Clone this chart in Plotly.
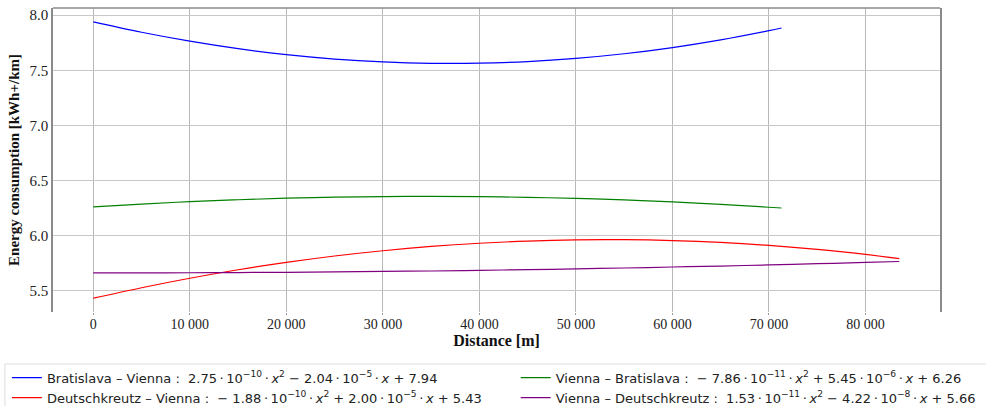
import plotly.graph_objects as go

dist_bv = [0, 5000, 10000, 15000, 20000, 25000, 30000, 35000, 40000, 45000,
           50000, 55000, 60000, 65000, 70000, 71300]
dist_dv = [0, 5000, 10000, 15000, 20000, 25000, 30000, 35000, 40000, 45000,
           50000, 55000, 60000, 65000, 70000, 75000, 80000, 83500]

# Energy consumption [kWh+/km]
bratislava_vienna = [7.94, 7.845, 7.764, 7.696, 7.642, 7.602, 7.576, 7.563, 7.564,
                     7.579, 7.608, 7.650, 7.706, 7.776, 7.860, 7.884]
vienna_bratislava = [6.26, 6.285, 6.307, 6.324, 6.338, 6.347, 6.353, 6.355, 6.352,
                     6.346, 6.336, 6.322, 6.304, 6.282, 6.256, 6.249]
deutschkreutz_vienna = [5.43, 5.525, 5.611, 5.688, 5.755, 5.813, 5.861, 5.900, 5.929,
                        5.949, 5.960, 5.961, 5.953, 5.936, 5.909, 5.873, 5.827, 5.789]
vienna_deutschkreutz = [5.660, 5.660, 5.661, 5.663, 5.665, 5.669, 5.673, 5.677, 5.683,
                        5.689, 5.696, 5.704, 5.713, 5.722, 5.732, 5.743, 5.755, 5.763]

D = "\u2009·\u2009"
legend_names = [
    f"Bratislava – Vienna :  2.75{D}10<sup>−10</sup>{D}<i>x</i><sup>2</sup> − 2.04{D}10<sup>−5</sup>{D}<i>x</i> + 7.94",
    f"Vienna – Bratislava :  − 7.86{D}10<sup>−11</sup>{D}<i>x</i><sup>2</sup> + 5.45{D}10<sup>−6</sup>{D}<i>x</i> + 6.26",
    f"Deutschkreutz – Vienna :  − 1.88{D}10<sup>−10</sup>{D}<i>x</i><sup>2</sup> + 2.00{D}10<sup>−5</sup>{D}<i>x</i> + 5.43",
    f"Vienna – Deutschkreutz :  1.53{D}10<sup>−11</sup>{D}<i>x</i><sup>2</sup> − 4.22{D}10<sup>−8</sup>{D}<i>x</i> + 5.66",
]
colors = ["#0000ff", "#008000", "#ff0000", "#800080"]
legend_ids = ["legend", "legend2", "legend", "legend2"]

x_tickvals = [0, 10000, 20000, 30000, 40000, 50000, 60000, 70000, 80000]
x_ticktext = ["0", "10 000", "20 000", "30 000", "40 000", "50 000", "60 000", "70 000", "80 000"]
y_tickvals = [5.5, 6.0, 6.5, 7.0, 7.5, 8.0]
y_ticktext = ["5.5", "6.0", "6.5", "7.0", "7.5", "8.0"]

series = [
    (dist_bv, bratislava_vienna),
    (dist_bv, vienna_bratislava),
    (dist_dv, deutschkreutz_vienna),
    (dist_dv, vienna_deutschkreutz),
]

fig = go.Figure()
for (xs, ys), name, c, lg in zip(series, legend_names, colors, legend_ids):
    fig.add_trace(go.Scatter(x=xs, y=ys, mode="lines", name=name, legend=lg,
                             line=dict(color=c, width=1.2, shape="spline")))

serif = "Liberation Serif, Times New Roman, serif"
legend_common = dict(
    orientation="v", yanchor="top", xanchor="left",
    font=dict(family="DejaVu Sans", size=13, color="#222"),
    bgcolor="rgba(0,0,0,0)", borderwidth=0, tracegroupgap=0, itemwidth=30,
)
fig.update_layout(
    width=986, height=406,
    margin=dict(l=53, r=46, t=8, b=94, autoexpand=False),
    paper_bgcolor="white", plot_bgcolor="white",
    showlegend=True,
    legend=dict(x=-0.052, y=-0.167, **legend_common),
    legend2=dict(x=0.5216, y=-0.167, **legend_common),
    xaxis=dict(
        range=[-4177, 87717],
        tickvals=x_tickvals, ticktext=x_ticktext,
        tickfont=dict(family=serif, size=14, color="#222"),
        showgrid=True, gridcolor="#b8b8b8", gridwidth=1,
        zeroline=False, showline=False,
        ticks="outside", ticklen=2, tickcolor="#999",
        ticklabelstandoff=-3,
        title=dict(text="<b>Distance [m]</b>", font=dict(family=serif, size=16, color="#111"),
                   standoff=2),
    ),
    yaxis=dict(
        range=[5.3045, 8.0655],
        tickvals=y_tickvals, ticktext=y_ticktext,
        tickfont=dict(family=serif, size=15, color="#222"),
        showgrid=True, gridcolor="#c8c8c8", gridwidth=1,
        zeroline=False, showline=True, mirror=True, linecolor="#8a8a8a", linewidth=1.5,
        ticks="",
        title=dict(text="<b>Energy consumption [kWh+/km]</b>",
                   font=dict(family=serif, size=15, color="#111"), standoff=6),
    ),
    shapes=[
        dict(type="line", xref="paper", yref="paper", x0=0, x1=1, y0=1, y1=1,
             line=dict(color="#8a8a8a", width=1.5)),
        dict(type="rect", xref="paper", yref="paper", x0=-0.0542, x1=1.055,
             y0=-0.34, y1=-0.171, line=dict(color="#dddddd", width=1),
             fillcolor="rgba(0,0,0,0)"),
    ],
)

fig.write_html("out.html")
